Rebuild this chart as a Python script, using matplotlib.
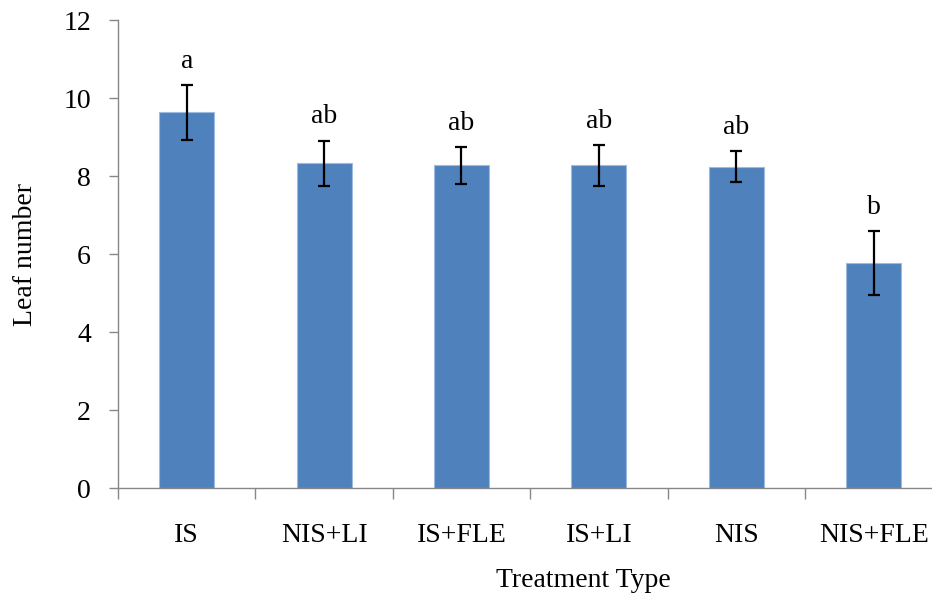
import matplotlib

matplotlib.use("Agg")
import matplotlib.pyplot as plt
import numpy as np

treatments = ["IS", "NIS+LI", "IS+FLE", "IS+LI", "NIS", "NIS+FLE"]
leaf_mean = [9.63, 8.33, 8.27, 8.27, 8.24, 5.76]
leaf_err = [0.70, 0.58, 0.48, 0.53, 0.40, 0.82]
groups = ["a", "ab", "ab", "ab", "ab", "b"]
yticks = [0, 2, 4, 6, 8, 10, 12]

plt.rcParams["font.family"] = ["Liberation Serif", "DejaVu Serif"]
plt.rcParams["font.size"] = 20

fig = plt.figure(figsize=(9.32, 6.03), dpi=100)
ax = fig.add_axes([118 / 932, 115 / 603, 824.4 / 932, 468 / 603])

x = np.arange(len(treatments))
ax.bar(x, leaf_mean, width=0.4, color="#4f81bd", edgecolor="#9dbbe0",
       linewidth=0.8, zorder=2)
ax.errorbar(x, leaf_mean, yerr=leaf_err, fmt="none", ecolor="black",
            elinewidth=1.6, capsize=4.5, capthick=1.6, zorder=3)

for xi, m, e, g in zip(x, leaf_mean, leaf_err, groups):
    ax.text(xi, m + e + 0.44, g, ha="center", va="baseline")

ax.set_xlim(-0.5, len(treatments) - 0.5)
ax.set_ylim(0, 12)
ax.set_yticks(yticks)
ax.set_yticklabels([str(v) for v in yticks])

# category labels sit between the boundary ticks
ax.set_xticks(x)
ax.set_xticklabels(treatments)
ax.set_xticks(np.arange(len(treatments) + 1) - 0.5, minor=True)
ax.tick_params(axis="x", which="major", length=0, pad=25)
ax.tick_params(axis="x", which="minor", length=8, width=1, color="#878787")
ax.tick_params(axis="y", length=6.5, width=1, color="#878787", pad=13)

for side in ("top", "right"):
    ax.spines[side].set_visible(False)
for side in ("left", "bottom"):
    ax.spines[side].set_color("#878787")
    ax.spines[side].set_linewidth(1)

ax.set_ylabel("Leaf number")
ax.yaxis.set_label_coords(-0.097, 0.5)
ax.set_xlabel("Treatment Type")
ax.xaxis.set_label_coords(0.564, -0.172)

fig.savefig("out.png", dpi=100)
